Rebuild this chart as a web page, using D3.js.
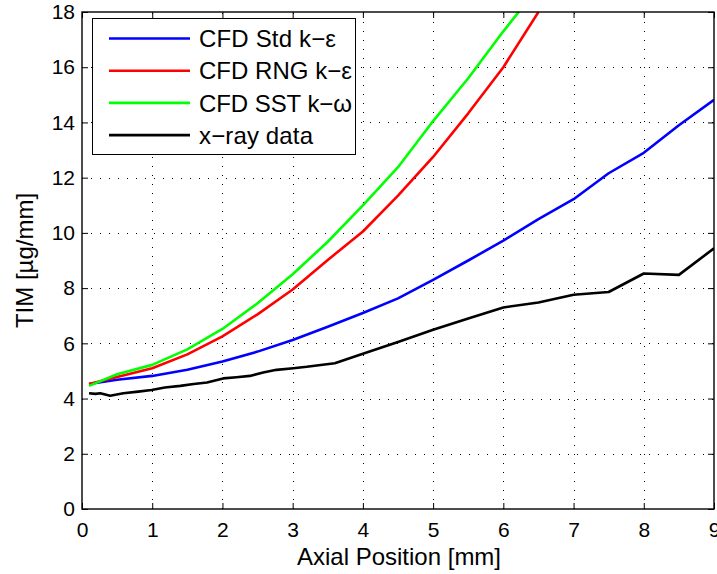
<!DOCTYPE html>
<html>
<head>
<meta charset="utf-8">
<script src="https://cdn.jsdelivr.net/npm/d3@7"></script>
<style>
  html, body { margin: 0; padding: 0; background: #fff; }
  svg { display: block; font-family: "Liberation Sans", Arial, Helvetica, sans-serif; }
</style>
</head>
<body>
<svg id="chart" width="717" height="574"></svg>
<script>
// Axial positions [mm] for the CFD model runs
const cfdX = [0.1, 0.5, 1, 1.5, 2, 2.5, 3, 3.5, 4, 4.5, 5, 5.5, 6, 6.5, 7, 7.5, 8, 8.5, 9];
// TIM [µg/mm] for each turbulence model
const stdKe = [4.53, 4.68, 4.82, 5.04, 5.34, 5.7, 6.12, 6.6, 7.1, 7.63, 8.3, 9.0, 9.72, 10.5, 11.22, 12.16, 12.9, 13.9, 14.82];
const rngKe = [4.53, 4.78, 5.1, 5.6, 6.25, 7.05, 7.95, 9.02, 10.05, 11.35, 12.75, 14.33, 16.0, 18.0];
const sstKw = [4.46, 4.88, 5.22, 5.78, 6.52, 7.45, 8.5, 9.68, 11.0, 12.38, 14.05, 15.6, 17.3, 18.9];

// X-ray measurement positions and values
const xrayX = [0.1, 0.19, 0.26, 0.4, 0.59, 0.8, 0.99, 1.18, 1.4, 1.59, 1.78, 2.01, 2.2, 2.39, 2.58, 2.77, 3.01, 3.2, 3.6, 4.0, 4.5, 5.0, 5.5, 6.0, 6.5, 7.0, 7.5, 8.0, 8.5, 9.0];
const xrayY = [4.19, 4.17, 4.19, 4.1, 4.19, 4.25, 4.31, 4.4, 4.46, 4.53, 4.58, 4.73, 4.77, 4.82, 4.94, 5.04, 5.1, 5.15, 5.28, 5.62, 6.05, 6.49, 6.9, 7.3, 7.48, 7.76, 7.86, 8.53, 8.48, 9.44];

const seriesNames = ["CFD Std k\u2212\u03b5", "CFD RNG k\u2212\u03b5", "CFD SST k\u2212\u03c9", "x\u2212ray data"];
const seriesColors = ["#0000ff", "#ff0000", "#00ff00", "#000000"];

const xTicks = [0, 1, 2, 3, 4, 5, 6, 7, 8, 9];
const yTicks = [0, 2, 4, 6, 8, 10, 12, 14, 16, 18];

const svg = d3.select("#chart");
const m = { left: 82, right: 714, top: 12, bottom: 509 };

const x = d3.scaleLinear().domain([0, 9]).range([m.left, m.right]);
const y = d3.scaleLinear().domain([0, 18]).range([m.bottom, m.top]);

// dotted grid
const grid = svg.append("g").attr("stroke", "#000").attr("stroke-width", 1)
  .attr("stroke-dasharray", "1,8").attr("shape-rendering", "crispEdges");
grid.selectAll(".gx").data(xTicks.slice(1, -1)).join("line")
  .attr("x1", d => Math.round(x(d)) + 0.5).attr("x2", d => Math.round(x(d)) + 0.5)
  .attr("y1", m.bottom).attr("y2", m.top);
grid.selectAll(".gy").data(yTicks.slice(1, -1)).join("line")
  .attr("x1", m.left).attr("x2", m.right)
  .attr("y1", d => Math.round(y(d)) + 0.5).attr("y2", d => Math.round(y(d)) + 0.5);

// data lines, clipped to the plot box
svg.append("clipPath").attr("id", "plotClip").append("rect")
  .attr("x", m.left).attr("y", m.top).attr("width", m.right - m.left).attr("height", m.bottom - m.top);

const line = d3.line().x(d => x(d[0])).y(d => y(d[1]));
const seriesData = [
  d3.zip(cfdX, stdKe),
  d3.zip(cfdX, rngKe),
  d3.zip(cfdX, sstKw),
  d3.zip(xrayX, xrayY)
];
const plot = svg.append("g").attr("clip-path", "url(#plotClip)");
plot.selectAll("path").data(seriesData).join("path")
  .attr("d", line).attr("fill", "none")
  .attr("stroke", (d, i) => seriesColors[i])
  .attr("stroke-width", 2.6).attr("stroke-linejoin", "round");

// axes with inward ticks on all four sides
const tick = 6;
const axisBottom = d3.axisBottom(x).tickValues(xTicks).tickSizeInner(-tick).tickSizeOuter(0).tickPadding(13);
const axisTop = d3.axisTop(x).tickValues(xTicks).tickSizeInner(-tick).tickSizeOuter(0).tickFormat("");
const axisLeft = d3.axisLeft(y).tickValues(yTicks).tickSizeInner(-tick).tickSizeOuter(0).tickPadding(7);
const axisRight = d3.axisRight(y).tickValues(yTicks).tickSizeInner(-tick).tickSizeOuter(0).tickFormat("");

function styleAxis(g) {
  g.select(".domain").remove();
  g.selectAll("line").attr("stroke", "#000").attr("stroke-width", 1);
  g.selectAll("text").attr("fill", "#000").style("font-size", "21px").style("font-family", "Liberation Sans, Arial, sans-serif");
}
svg.append("g").attr("transform", `translate(0,${m.bottom})`).call(axisBottom).call(styleAxis);
svg.append("g").attr("transform", `translate(0,${m.top})`).call(axisTop).call(styleAxis);
svg.append("g").attr("transform", `translate(${m.left},0)`).call(axisLeft).call(styleAxis);
svg.append("g").attr("transform", `translate(${m.right},0)`).call(axisRight).call(styleAxis);

// plot box
svg.append("rect").attr("x", m.left).attr("y", m.top)
  .attr("width", m.right - m.left).attr("height", m.bottom - m.top)
  .attr("fill", "none").attr("stroke", "#000").attr("stroke-width", 1.4);

// axis titles
svg.append("text").attr("x", (m.left + m.right) / 2 + 1).attr("y", 565)
  .attr("text-anchor", "middle").style("font-size", "24px").text("Axial Position [mm]");
svg.append("text").attr("transform", `translate(33,${(m.top + m.bottom) / 2}) rotate(-90)`)
  .attr("text-anchor", "middle").style("font-size", "24px").text("TIM [\u00b5g/mm]");

// legend
const legendTextWidth = [137, 153, 153, 114];
const lg = svg.append("g");
lg.append("rect").attr("x", 92.5).attr("y", 18.5).attr("width", 263).attr("height", 136)
  .attr("fill", "#fff").attr("stroke", "#000").attr("stroke-width", 1);
const rows = lg.selectAll("g.row").data(seriesNames).join("g")
  .attr("transform", (d, i) => `translate(0,${38.5 + i * 32.2})`);
rows.append("line").attr("x1", 109).attr("x2", 190)
  .attr("stroke", (d, i) => seriesColors[i]).attr("stroke-width", 2.6);
rows.append("text").attr("x", 199).attr("dy", "0.36em")
  .attr("textLength", (d, i) => legendTextWidth[i]).attr("lengthAdjust", "spacing")
  .style("font-size", "24px").text(d => d);
</script>
</body>
</html>
